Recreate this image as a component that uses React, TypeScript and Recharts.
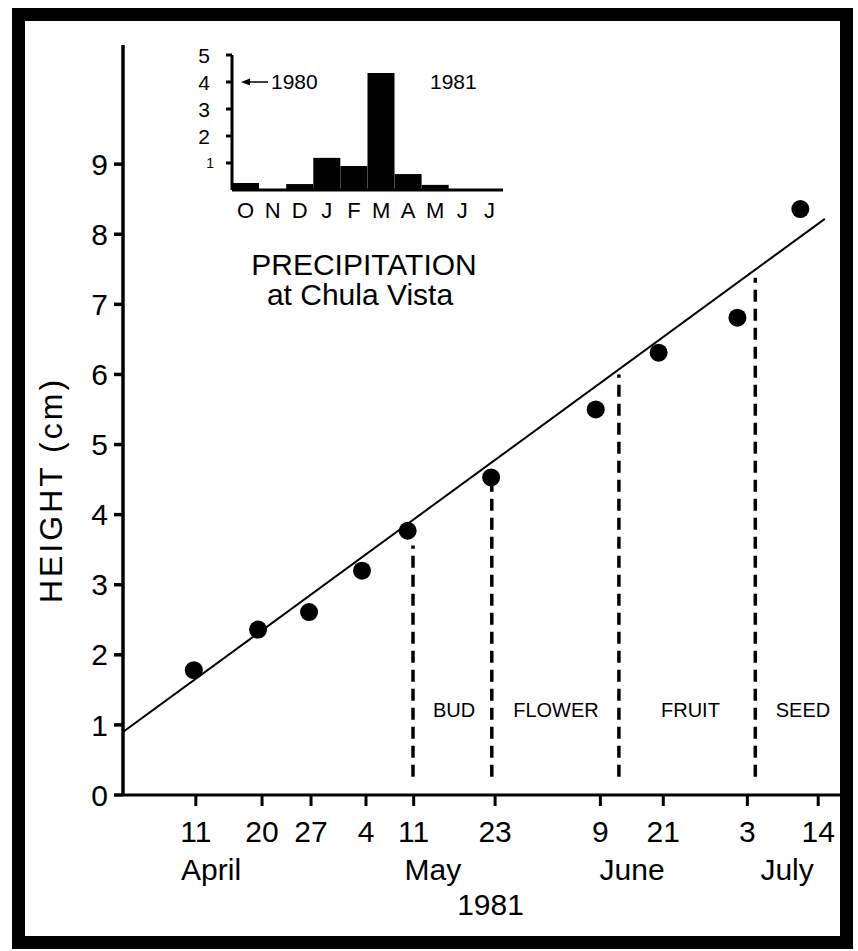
import React from 'react';
import {
  ComposedChart,
  Scatter,
  Line,
  XAxis,
  YAxis,
  ReferenceLine,
  ReferenceDot,
  BarChart,
  Bar,
} from 'recharts';

// ---- main chart data (x in days after 31 March 1981) ----
const sampleDates = ['11', '20', '27', '4', '11', '23', '9', '21', '3', '14'];
const tickDays = [11.0, 21.0, 28.4, 36.7, 43.9, 56.2, 72.1, 81.6, 94.3, 105.0];
const months = ['April', 'May', 'June', 'July'];
const monthDays = [13.3, 46.8, 76.9, 100.3];
const heightTicks = [0, 1, 2, 3, 4, 5, 6, 7, 8, 9];

const pointDays = [10.7, 20.4, 28.1, 36.1, 43.0, 55.6, 71.4, 80.9, 92.8, 102.3];
const heights = [1.78, 2.36, 2.61, 3.2, 3.77, 4.53, 5.5, 6.31, 6.81, 8.36];

const fitDays = [0, 106];
const fitHeights = [0.9, 8.22];

const phaseLineDays = [43.8, 55.7, 74.9, 95.5];
const phaseLineTops = [3.56, 4.45, 6.0, 7.38];
const phaseLineBottom = 0.26;

const phaseNames = ['BUD', 'FLOWER', 'FRUIT', 'SEED'];
const phaseNameDays = [50.0, 65.4, 85.7, 102.7];
const phaseNameHeight = 1.21;

// ---- inset: precipitation at Chula Vista ----
const precipMonths = ['O', 'N', 'D', 'J', 'F', 'M', 'A', 'M', 'J', 'J'];
const precipValues = [0.26, 0.02, 0.22, 1.19, 0.89, 4.33, 0.59, 0.19, 0, 0];
const precipTicks = [1, 2, 3, 4, 5];

const FONT = '"Liberation Sans", Arial, Helvetica, sans-serif';

const InsetTick = (props: any) => {
  const { x, y, payload } = props;
  const small = payload.value === 1;
  return (
    <text
      x={small ? x + 4 : x}
      y={y}
      textAnchor="end"
      dominantBaseline="central"
      fontSize={small ? 14 : 21}
      fill="#000"
      fontFamily={FONT}
    >
      {payload.value}
    </text>
  );
};

export default function App() {
  const points = pointDays.map((d, i) => ({ d, h: heights[i] }));
  const fit = fitDays.map((d, i) => ({ d, h: fitHeights[i] }));
  const precipData = precipMonths.map((m, i) => ({ m, p: precipValues[i] }));

  return (
    <div
      style={{
        position: 'absolute',
        left: 0,
        top: 0,
        width: 858,
        height: 951,
        background: '#fff',
        fontFamily: FONT,
        overflow: 'hidden',
      }}
    >
      <div style={{ position: 'absolute', left: 0, top: 0 }}>
        <ComposedChart
          width={858}
          height={951}
          margin={{ top: 45, right: 10, bottom: 31, left: 0 }}
        >
          <XAxis
            xAxisId="day"
            type="number"
            dataKey="d"
            domain={[0, 109.5]}
            ticks={tickDays}
            interval={0}
            tickFormatter={(v: number) => sampleDates[tickDays.indexOf(v)]}
            height={50}
            tickSize={11}
            tickMargin={15}
            stroke="#000"
            strokeWidth={3}
            tick={{ fill: '#000', fontSize: 30 }}
            allowDataOverflow
          />
          <XAxis
            xAxisId="month"
            type="number"
            dataKey="d"
            domain={[0, 109.5]}
            ticks={monthDays}
            interval={0}
            tickFormatter={(v: number) => months[monthDays.indexOf(v)]}
            height={75}
            axisLine={false}
            tickLine={false}
            tickSize={0}
            tickMargin={14}
            tick={{ fill: '#000', fontSize: 30 }}
            allowDataOverflow
            label={{
              value: '1981',
              position: 'insideBottom',
              offset: 5,
              dx: 5,
              fill: '#000',
              fontSize: 30,
            }}
          />
          <YAxis
            type="number"
            dataKey="h"
            domain={[0, 10.7]}
            ticks={heightTicks}
            interval={0}
            width={123}
            tickSize={9}
            tickMargin={6}
            stroke="#000"
            strokeWidth={3.5}
            tick={{ fill: '#000', fontSize: 30 }}
            allowDataOverflow
          />
          <Line
            xAxisId="day"
            data={fit}
            dataKey="h"
            type="linear"
            stroke="#000"
            strokeWidth={2}
            dot={false}
            activeDot={false}
            isAnimationActive={false}
          />
          <Scatter
            xAxisId="day"
            data={points}
            dataKey="h"
            fill="#000"
            isAnimationActive={false}
            shape={(p: any) => <circle cx={p.cx} cy={p.cy} r={9} fill="#000" />}
          />
          {phaseLineDays.map((d, i) => (
            <ReferenceLine
              key={'pl' + i}
              xAxisId="day"
              segment={[
                { x: d, y: phaseLineBottom },
                { x: d, y: phaseLineTops[i] },
              ]}
              stroke="#000"
              strokeWidth={3.5}
              strokeDasharray="12 7"
            />
          ))}
          {phaseNames.map((n, i) => (
            <ReferenceDot
              key={'pn' + i}
              xAxisId="day"
              x={phaseNameDays[i]}
              y={phaseNameHeight}
              r={0}
              fill="none"
              stroke="none"
              label={{ value: n, position: 'center', fill: '#000', fontSize: 20 }}
            />
          ))}
        </ComposedChart>
      </div>

      <div style={{ position: 'absolute', left: 150, top: 30 }}>
        <BarChart
          width={380}
          height={200}
          data={precipData}
          margin={{ top: 25, right: 27, bottom: 10, left: 0 }}
          barCategoryGap={0}
          barGap={0}
        >
          <XAxis
            dataKey="m"
            interval={0}
            height={30}
            tickSize={0}
            tickMargin={12}
            stroke="#000"
            strokeWidth={3}
            tick={{ fill: '#000', fontSize: 22 }}
          />
          <YAxis
            type="number"
            domain={[0, 5]}
            ticks={precipTicks}
            interval={0}
            width={82}
            tickSize={6}
            tickMargin={16}
            stroke="#000"
            strokeWidth={3}
            tick={<InsetTick />}
          />
          <Bar dataKey="p" fill="#000" isAnimationActive={false} />
        </BarChart>
      </div>

      <svg
        width={858}
        height={951}
        style={{ position: 'absolute', left: 0, top: 0, pointerEvents: 'none' }}
        fontFamily={FONT}
      >
        <line x1={247} y1={82} x2={268} y2={82} stroke="#000" strokeWidth={1.5} />
        <polygon points="241,82 250,78.5 250,85.5" fill="#000" />
        <text x={271} y={89} fontSize={21} fill="#000">1980</text>
        <text x={430} y={89} fontSize={21} fill="#000">1981</text>
        <text x={364} y={275} fontSize={30} fill="#000" textAnchor="middle">PRECIPITATION</text>
        <text x={360} y={305} fontSize={30} fill="#000" textAnchor="middle">at Chula Vista</text>
        <text
          x={62}
          y={490}
          fontSize={32}
          letterSpacing={3}
          fill="#000"
          textAnchor="middle"
          transform="rotate(-90 62 490)"
        >
          HEIGHT (cm)
        </text>
      </svg>

      <div
        style={{
          position: 'absolute',
          left: 12,
          top: 8,
          width: 841,
          height: 941,
          border: '13px solid #000',
          boxSizing: 'border-box',
        }}
      />
    </div>
  );
}
